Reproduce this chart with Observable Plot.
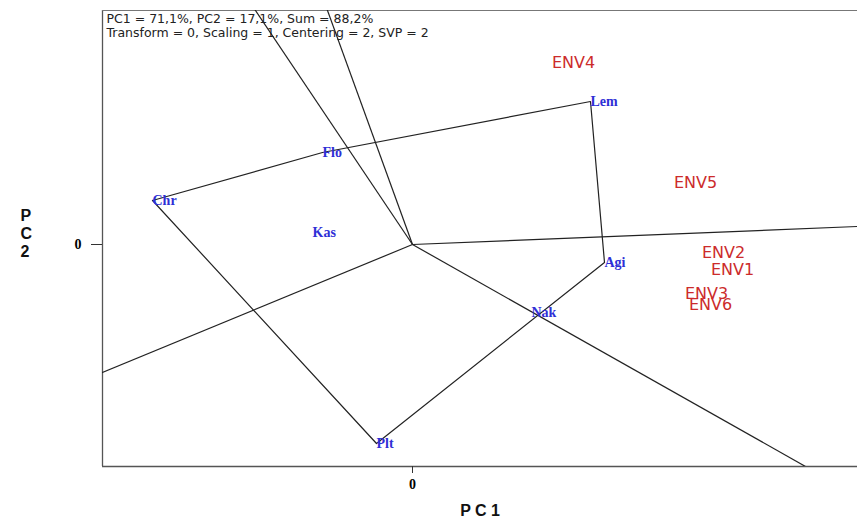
<!DOCTYPE html>
<html>
<head>
<meta charset="utf-8">
<script src="https://cdn.jsdelivr.net/npm/d3@7"></script>
<script src="https://cdn.jsdelivr.net/npm/@observablehq/plot@0.6"></script>
<style>
  html, body { margin: 0; padding: 0; background: #fff; }
</style>
</head>
<body>
<div id="chart"></div>
<script>
// Genotype scores (PC1, PC2)
const genotypes = ["Chr", "Flo", "Kas", "Lem", "Agi", "Nak", "Plt"];
const genoPC1 = [-2.60, -0.90, -1.00, 1.78, 1.92, 1.19, -0.36];
const genoPC2 = [0.44, 0.92, 0.12, 1.43, -0.18, -0.68, -1.99];

// Environment scores (PC1, PC2)
const environments = ["ENV1", "ENV2", "ENV3", "ENV4", "ENV5", "ENV6"];
const envPC1 = [3.20, 3.11, 2.94, 1.61, 2.83, 2.98];
const envPC2 = [-0.25, -0.08, -0.49, 1.82, 0.62, -0.60];

// Polygon (convex hull) vertex order
const hull = ["Chr", "Flo", "Lem", "Agi", "Plt", "Chr"];

// Sector-dividing rays from origin (end points)
const rayPC1 = [-1.57, -0.85, 4.45, 3.93, -3.10];
const rayPC2 = [2.34, 2.34, 0.18, -2.22, -1.28];

const headerText = "PC1 = 71,1%, PC2 = 17,1%, Sum = 88,2%\nTransform = 0, Scaling = 1, Centering = 2, SVP = 2";

const geno = genotypes.map((g, i) => ({name: g, x: genoPC1[i], y: genoPC2[i]}));
const env = environments.map((e, i) => ({name: e, x: envPC1[i], y: envPC2[i]}));
const genoByName = new Map(geno.map(d => [d.name, d]));
const hullPts = hull.map(n => genoByName.get(n));
const rays = rayPC1.map((x, i) => ({x1: 0, y1: 0, x2: x * 1.3, y2: rayPC2[i] * 1.3}));

const xDom = [-3.10, 4.45];
const yDom = [-2.22, 2.34];

const chart = Plot.plot({
  width: 857,
  height: 522,
  marginLeft: 102,
  marginRight: 0,
  marginTop: 10,
  marginBottom: 56,
  x: {domain: xDom},
  y: {domain: yDom},
  style: {background: "#fff"},
  marks: [
    // frame: left, top, bottom
    Plot.ruleX([xDom[0]], {stroke: "#555", strokeWidth: 1.3}),
    Plot.ruleY([yDom[1]], {stroke: "#777", strokeWidth: 1}),
    Plot.ruleY([yDom[0]], {stroke: "#555", strokeWidth: 1.3}),
    Plot.axisX([0], {tickSize: 7, tickPadding: 6, tickFormat: d => String(d), fontSize: 14, fontWeight: "bold", fontFamily: "Liberation Serif", label: null, stroke: "#333"}),
    Plot.axisY([0], {tickSize: 11, tickPadding: 10, tickFormat: d => String(d), fontSize: 14, fontWeight: "bold", fontFamily: "Liberation Serif", label: null, stroke: "#333"}),
    // rays
    Plot.link(rays, {x1: "x1", y1: "y1", x2: "x2", y2: "y2", stroke: "#222", strokeWidth: 1.2, clip: true}),
    // polygon
    Plot.line(hullPts, {x: "x", y: "y", stroke: "#222", strokeWidth: 1.2, clip: true}),
    // genotype labels
    Plot.text(geno, {x: "x", y: "y", text: "name", textAnchor: "start", fill: "#2f2fd6", fontFamily: "Liberation Serif", fontWeight: "bold", fontSize: 14}),
    // environment labels
    Plot.text(env, {x: "x", y: "y", text: "name", textAnchor: "middle", fill: "#cc2b2b", fontFamily: "DejaVu Sans", fontSize: 16}),
    // header
    Plot.text([headerText], {frameAnchor: "top-left", dx: 4, dy: 3, lineAnchor: "top", lineHeight: 1.1, fontFamily: "DejaVu Sans", fontSize: 12.5, fill: "#222"}),
    // axis titles
    Plot.text(["P C 1"], {frameAnchor: "bottom", dy: 49, fontFamily: "Liberation Sans", fontWeight: "bold", fontSize: 16, fill: "#111"}),
    Plot.text(["P\nC\n2"], {frameAnchor: "left", dx: -82, dy: -5, lineHeight: 1.12, fontFamily: "Liberation Sans", fontWeight: "bold", fontSize: 16, fill: "#111"})
  ]
});
document.getElementById("chart").appendChild(chart);
</script>
</body>
</html>
